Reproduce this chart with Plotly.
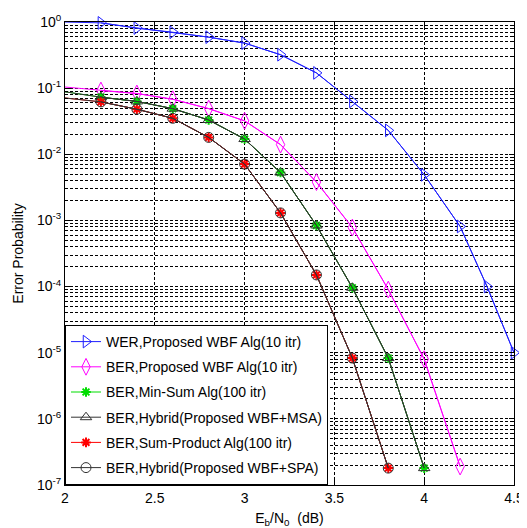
import plotly.graph_objects as go

# ---- data ----
ebn0 = [2.0, 2.2, 2.4, 2.6, 2.8, 3.0, 3.2, 3.4, 3.6, 3.8, 4.0, 4.2, 4.35, 4.5]
wer_wbf = [1.0, 0.97, 0.81, 0.70, 0.59, 0.48, 0.32, 0.17, 0.063, 0.023, 0.0049, 8.1e-4, 1.0e-4, 1.0e-5]

ebn0_wbf = [2.0, 2.2, 2.4, 2.6, 2.8, 3.0, 3.2, 3.4, 3.6, 3.8, 4.0, 4.2]
ber_wbf = [0.104, 0.092, 0.083, 0.068, 0.049, 0.032, 0.014, 0.0038, 7.8e-4, 9.0e-5, 8.0e-6, 1.9e-7]

ebn0_msa = [2.0, 2.2, 2.4, 2.6, 2.8, 3.0, 3.2, 3.4, 3.6, 3.8, 4.0]
ber_msa = [0.088, 0.073, 0.063, 0.049, 0.033, 0.017, 0.0053, 8.4e-4, 9.6e-5, 8.3e-6, 1.8e-7]
ber_hyb_msa = [0.088, 0.073, 0.063, 0.049, 0.033, 0.017, 0.0053, 8.4e-4, 9.6e-5, 8.3e-6, 1.8e-7]

ebn0_spa = [2.0, 2.2, 2.4, 2.6, 2.8, 3.0, 3.2, 3.4, 3.6, 3.8]
ber_spa = [0.071, 0.062, 0.048, 0.035, 0.018, 0.0071, 0.0013, 1.5e-4, 8.3e-6, 1.8e-7]
ber_hyb_spa = [0.071, 0.062, 0.048, 0.035, 0.018, 0.0071, 0.0013, 1.5e-4, 8.3e-6, 1.8e-7]

names = [
    "WER,Proposed WBF Alg(10 itr)",
    "BER,Proposed WBF Alg(10 itr)",
    "BER,Min-Sum Alg(100 itr)",
    "BER,Hybrid(Proposed WBF+MSA)",
    "BER,Sum-Product Alg(100 itr)",
    "BER,Hybrid(Proposed WBF+SPA)",
]
y_exps = [0, -1, -2, -3, -4, -5, -6, -7]
x_ticks = [2, 2.5, 3, 3.5, 4, 4.5]

FONT = "Liberation Sans, Arial, sans-serif"

series = [
    (ebn0, wer_wbf, "#1f1fff", "triangle-right-open", 11, 1),
    (ebn0_wbf, ber_wbf, "#ff00ff", "diamond-tall-open", 12, 1),
    (ebn0_msa, ber_msa, "#00dd00", "asterisk-open", 8, 2),
    (ebn0_msa, ber_hyb_msa, "#333333", "triangle-up-open", 10, 1),
    (ebn0_spa, ber_spa, "#ff0000", "asterisk-open", 8, 2),
    (ebn0_spa, ber_hyb_spa, "#333333", "circle-open", 10, 1),
]

fig = go.Figure()
for i, (xs, ys, col, sym, sz, mlw) in enumerate(series):
    # line from the first point (no marker there)
    fig.add_trace(go.Scatter(
        x=xs, y=ys, mode="lines", line=dict(color=col, width=1),
        showlegend=False, hoverinfo="skip", legendgroup=f"g{i}"))
    # markers + legend entry
    fig.add_trace(go.Scatter(
        x=xs[1:], y=ys[1:], mode="lines+markers", name=names[i],
        line=dict(color=col, width=1),
        marker=dict(symbol=sym, size=sz, color=col, line=dict(color=col, width=mlw)),
        cliponaxis=False, legendgroup=f"g{i}"))

minor_vals = [k * 10.0 ** e for e in range(-7, 0) for k in range(2, 10)]

fig.update_layout(
    width=519, height=520,
    margin=dict(l=57, r=13, t=14, b=43, autoexpand=False),
    paper_bgcolor="white", plot_bgcolor="white",
    font=dict(family=FONT, size=14, color="black"),
    legend=dict(
        x=0, y=0, xanchor="left", yanchor="bottom",
        bgcolor="white", bordercolor="black", borderwidth=1,
        font=dict(family=FONT, size=14, color="black"),
        tracegroupgap=4,
    ),
    xaxis=dict(
        range=[2, 4.5], tickvals=x_ticks, ticktext=[f"{v:g}" for v in x_ticks],
        automargin=False, tickfont=dict(size=14),
        showgrid=True, gridcolor="black", griddash="3px,2px", gridwidth=1,
        showline=True, linecolor="black", linewidth=1, mirror="ticks",
        ticks="inside", ticklen=5, tickcolor="black", zeroline=False,
        title=dict(text="E<sub>b</sub>/N<sub>0</sub>  (dB)", font=dict(size=14), standoff=8),
    ),
    yaxis=dict(
        type="log", range=[-7, 0],
        tickvals=[10.0 ** e for e in y_exps],
        ticktext=[f"10<sup>{e}</sup>" for e in y_exps],
        automargin=False, tickfont=dict(size=14),
        showgrid=True, gridcolor="black", griddash="3px,2px", gridwidth=1,
        minor=dict(tickvals=minor_vals, showgrid=True, gridcolor="black",
                   griddash="3px,2px", gridwidth=1, ticks="inside", ticklen=3,
                   tickcolor="black"),
        showline=True, linecolor="black", linewidth=1, mirror="ticks",
        ticks="inside", ticklen=5, tickcolor="black", zeroline=False,
        title=dict(text="Error Probability", font=dict(size=14), standoff=10),
    ),
)

fig.write_html("out.html")
